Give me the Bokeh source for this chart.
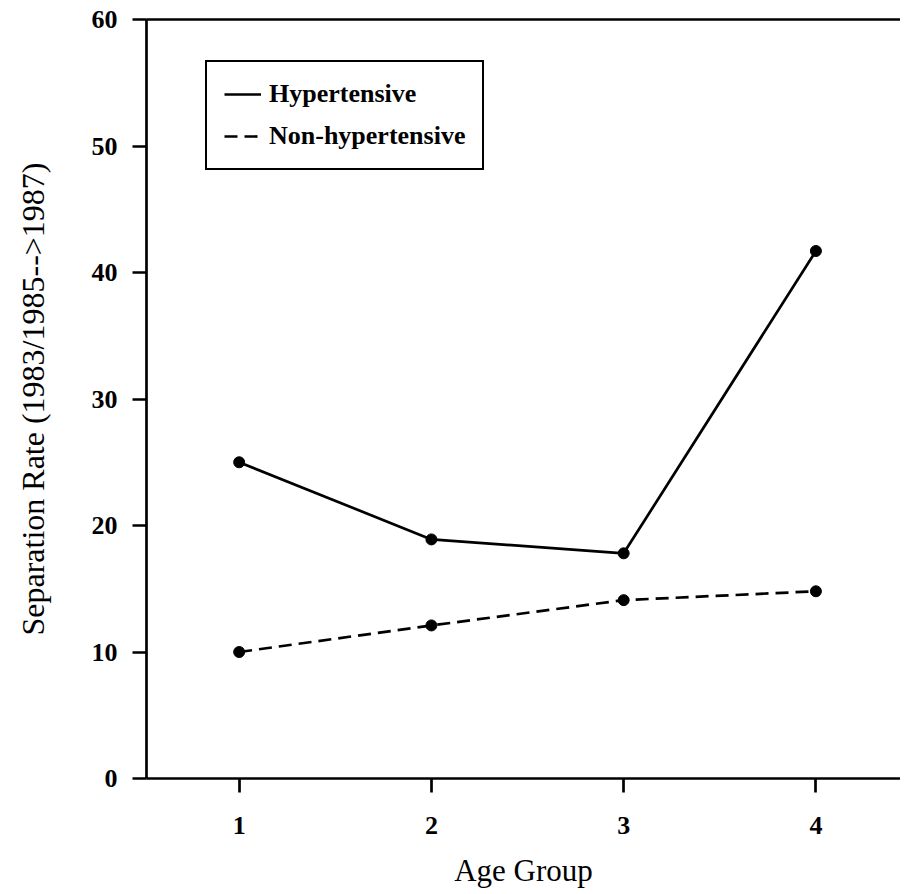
from bokeh.plotting import figure
from bokeh.models import LinearAxis, FixedTicker, Range1d, Legend, LegendItem
from bokeh.embed import file_html
from bokeh.resources import INLINE

age_groups = [1, 2, 3, 4]
hypertensive = [25.0, 18.9, 17.8, 41.7]
non_hypertensive = [10.0, 12.1, 14.1, 14.8]
y_ticks = [0, 10, 20, 30, 40, 50, 60]

SERIF = "Liberation Serif"

p = figure(width=900, height=890, output_backend="svg", toolbar_location=None,
           x_range=Range1d(0.518, 4.44), y_range=Range1d(0, 60),
           min_border_left=146, min_border_top=19, min_border_bottom=110,
           min_border_right=0)
p.outline_line_color = None
p.grid.visible = False
p.background_fill_color = "white"
p.border_fill_color = "white"

l1 = p.line(age_groups, hypertensive, line_color="black", line_width=2.7)
l2 = p.line(age_groups, non_hypertensive, line_color="black", line_width=2.7,
            line_dash="13 7")
p.scatter(age_groups, hypertensive, size=11, fill_color="black", line_color="black")
p.scatter(age_groups, non_hypertensive, size=11, fill_color="black", line_color="black")

for ax in (p.xaxis[0], p.yaxis[0]):
    ax.axis_line_width = 2.7
    ax.axis_line_color = "black"
    ax.major_tick_line_width = 2.7
    ax.major_tick_line_color = "black"
    ax.minor_tick_line_color = None
    ax.major_tick_in = 0
    ax.major_tick_out = 14
    ax.major_label_text_font = SERIF
    ax.major_label_text_font_style = "bold"
    ax.major_label_text_font_size = "26px"
    ax.major_label_text_color = "black"
    ax.axis_label_text_font = SERIF
    ax.axis_label_text_font_style = "normal"
    ax.axis_label_text_font_size = "31px"
    ax.axis_label_text_color = "black"

p.xaxis[0].ticker = FixedTicker(ticks=age_groups)
p.xaxis[0].axis_label = "Age Group"
p.xaxis[0].major_label_standoff = 24
p.xaxis[0].axis_label_standoff = 16

p.yaxis[0].ticker = FixedTicker(ticks=y_ticks)
p.yaxis[0].axis_label = "Separation Rate (1983/1985-->1987)"
p.yaxis[0].axis_label_text_font_size = "32px"
p.yaxis[0].major_label_standoff = 15
p.yaxis[0].axis_label_standoff = 38

top = LinearAxis(ticker=FixedTicker(ticks=[]), axis_line_width=2.7,
                 axis_line_color="black",
                 major_label_text_font_size="0px", major_tick_out=0,
                 minor_tick_out=0)
p.add_layout(top, "above")

legend = Legend(items=[LegendItem(label="Hypertensive", renderers=[l1]),
                       LegendItem(label="Non-hypertensive", renderers=[l2])],
                location=(59, 608))
legend.label_text_font = SERIF
legend.label_text_font_style = "bold"
legend.label_text_font_size = "26px"
legend.label_text_color = "black"
legend.glyph_width = 37
legend.glyph_height = 28
legend.label_height = 28
legend.label_standoff = 8
legend.padding = 17
legend.spacing = 12
legend.margin = 0
legend.border_line_color = "black"
legend.border_line_alpha = 1
legend.border_line_width = 2.7
legend.background_fill_alpha = 1
p.add_layout(legend, "center")

open("out.html", "w").write(file_html(p, INLINE))
